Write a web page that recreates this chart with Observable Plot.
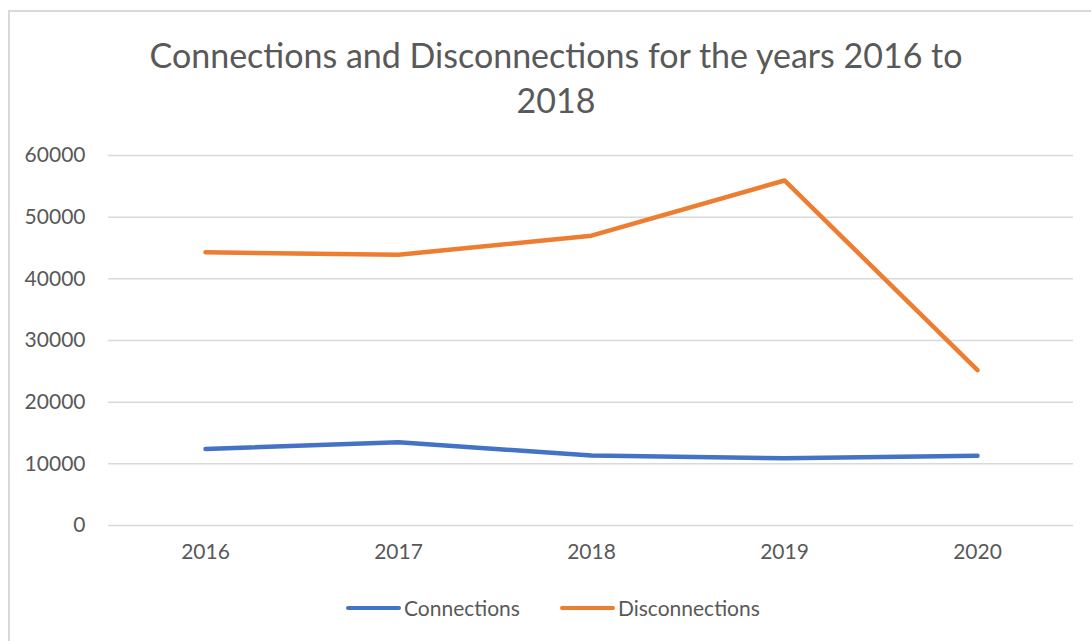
<!DOCTYPE html>
<html><head><meta charset="utf-8">
<script src="https://cdn.jsdelivr.net/npm/d3@7"></script>
<script src="https://cdn.jsdelivr.net/npm/@observablehq/plot@0.6"></script>
<style>
body{margin:0;background:#fff;font-family:Lato,"Open Sans",sans-serif;}
#frame{position:relative;width:1091px;height:641px;overflow:hidden;background:#fff}
#border{position:absolute;left:8px;top:10px;width:1100px;height:700px;border:2px solid #d9d9d9;box-sizing:border-box}
#title{position:absolute;left:0;width:1112px;top:32px;text-align:center;font-size:34px;color:#595959;line-height:45px}
#chart{position:absolute;left:0;top:140px}
#legend{position:absolute;left:346px;top:595px;display:flex;align-items:center;font-size:21px;color:#595959}
.sw{display:inline-block;width:55px;height:4px;border-radius:2px;margin-right:3px}
.item{display:flex;align-items:center;margin-right:40px}
</style></head><body>
<div id="frame">
<div id="border"></div>
<div id="title">Connections and Disconnections for the years 2016 to<br>2018</div>
<div id="chart"></div>
<div id="legend"></div>
</div>
<script>
const years = ["2016","2017","2018","2019","2020"];
const connections = [12400, 13500, 11350, 10900, 11300];
const disconnections = [44300, 43900, 47000, 55950, 25200];
const yTicks = [0, 10000, 20000, 30000, 40000, 50000, 60000];
const seriesNames = ["Connections", "Disconnections"];
const seriesColors = ["#4472C4", "#ED7D31"];

const data = [];
years.forEach((y, i) => {
  data.push({year: y, value: connections[i], series: seriesNames[0]});
  data.push({year: y, value: disconnections[i], series: seriesNames[1]});
});

const plot = Plot.plot({
  width: 1091,
  height: 440,
  marginTop: 15,
  marginBottom: 55,
  marginLeft: 108,
  marginRight: 18,
  style: {fontFamily: "Lato, 'Open Sans', sans-serif", fontSize: "21px", color: "#595959", background: "transparent"},
  x: {type: "point", domain: years, padding: 0.5, label: null},
  y: {domain: [0, 60000], ticks: yTicks, label: null},
  color: {domain: seriesNames, range: seriesColors},
  marks: [
    Plot.gridY(yTicks, {stroke: "#d9d9d9", strokeOpacity: 1, strokeWidth: 1.5}),
    Plot.axisY(yTicks, {tickSize: 0, tickPadding: 23, tickFormat: d => String(d), fill: "#595959", fontSize: 21, label: null}),
    Plot.axisX({tickSize: 0, tickPadding: 19, fill: "#595959", fontSize: 21, label: null}),
    Plot.line(data, {x: "year", y: "value", z: "series", stroke: "series", strokeWidth: 4.5, strokeLinecap: "round", strokeLinejoin: "round"})
  ]
});
document.getElementById("chart").appendChild(plot);

const lg = document.getElementById("legend");
seriesNames.forEach((n, i) => {
  const it = document.createElement("div");
  it.className = "item";
  const sw = document.createElement("span");
  sw.className = "sw";
  sw.style.background = seriesColors[i];
  it.appendChild(sw);
  it.appendChild(document.createTextNode(n));
  lg.appendChild(it);
});
</script>
</body></html>
